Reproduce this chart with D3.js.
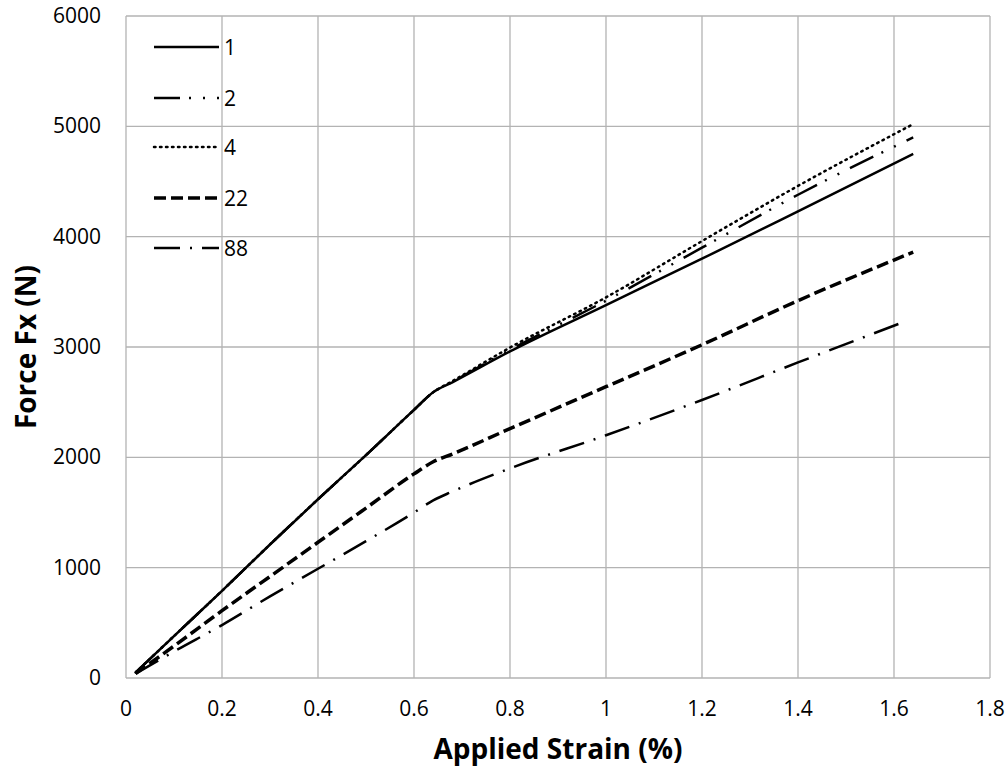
<!DOCTYPE html>
<html><head><meta charset="utf-8">
<script src="https://cdn.jsdelivr.net/npm/d3@7"></script>
<style>body{margin:0;background:#fff}svg{display:block}text{font-family:"Open Sans",sans-serif;fill:#000}</style>
</head><body><svg id="c" width="1008" height="769"></svg>
<script>
const strain = [0.02, 0.1, 0.2, 0.3, 0.4, 0.5, 0.6, 0.64, 0.68, 0.8, 1.0, 1.2, 1.4, 1.64];
const strain88 = [0.02, 0.1, 0.2, 0.3, 0.4, 0.5, 0.6, 0.64, 0.68, 0.8, 1.0, 1.2, 1.4, 1.61];
const s1 = [50, 380, 790, 1210, 1620, 2020, 2430, 2590, 2680, 2960, 3380, 3800, 4230, 4750];
const s2 = [50, 380, 790, 1210, 1620, 2020, 2430, 2590, 2685, 2975, 3420, 3900, 4380, 4900];
const s4 = [50, 380, 790, 1210, 1620, 2020, 2430, 2590, 2690, 2995, 3450, 3960, 4460, 5020];
const s22 = [40, 290, 610, 920, 1230, 1540, 1850, 1960, 2030, 2260, 2640, 3020, 3420, 3860];
const s88 = [40, 240, 480, 740, 990, 1240, 1500, 1610, 1690, 1900, 2200, 2520, 2860, 3210];
const seriesNames = ["1", "2", "4", "22", "88"];
const xTicks = [0, 0.2, 0.4, 0.6, 0.8, 1, 1.2, 1.4, 1.6, 1.8];
const yTicks = [0, 1000, 2000, 3000, 4000, 5000, 6000];

const series = [
  {name: "1", xs: strain, ys: s1, dash: null, w: 2.5},
  {name: "2", xs: strain, ys: s2, dash: "26,9,2,12,2,12", w: 2.5},
  {name: "4", xs: strain, ys: s4, dash: "1.5,4.5", w: 2.5},
  {name: "22", xs: strain, ys: s22, dash: "12,5", w: 3.5},
  {name: "88", xs: strain88, ys: s88, dash: "26,10,2,10", w: 2.5}
];

const svg = d3.select("#c");
const x = d3.scaleLinear().domain([0, 1.8]).range([126, 990]);
const y = d3.scaleLinear().domain([0, 6000]).range([678, 16]);

const g = svg.append("g");
g.selectAll("line.v").data(xTicks).join("line")
  .attr("x1", d => x(d)).attr("x2", d => x(d)).attr("y1", y(0)).attr("y2", y(6000))
  .attr("stroke", "#b3b3b3").attr("stroke-width", 1.3);
g.selectAll("line.h").data(yTicks).join("line")
  .attr("y1", d => y(d)).attr("y2", d => y(d)).attr("x1", x(0)).attr("x2", x(1.8))
  .attr("stroke", "#b3b3b3").attr("stroke-width", 1.3);

g.selectAll("text.xt").data(xTicks).join("text")
  .attr("x", d => x(d)).attr("y", 716).attr("text-anchor", "middle")
  .attr("font-size", 21).text(d => d3.format("")(d));
g.selectAll("text.yt").data(yTicks).join("text")
  .attr("x", 101).attr("y", d => y(d) + 7).attr("text-anchor", "end")
  .attr("font-size", 21).text(d => d);

const line = d3.line().x(d => x(d[0])).y(d => y(d[1])).curve(d3.curveMonotoneX);
series.forEach(s => {
  const pts = s.xs.map((v, i) => [v, s.ys[i]]);
  g.append("path").attr("d", line(pts)).attr("fill", "none")
    .attr("stroke", "#000").attr("stroke-width", s.w)
    .attr("stroke-dasharray", s.dash)
    .attr("stroke-linecap", s.dash === "1.5,4.5" ? "round" : "butt");
});

const legY = [47, 98, 147, 198, 248];
series.forEach((s, i) => {
  g.append("line").attr("x1", 154).attr("x2", 219).attr("y1", legY[i]).attr("y2", legY[i])
    .attr("stroke", "#000").attr("stroke-width", s.w)
    .attr("stroke-dasharray", s.dash)
    .attr("stroke-linecap", s.dash === "1.5,4.5" ? "round" : "butt");
  g.append("text").attr("x", 224).attr("y", legY[i] + 8).attr("font-size", 21).text(seriesNames[i]);
});

svg.append("text").attr("x", 558).attr("y", 759).attr("text-anchor", "middle")
  .attr("font-size", 28).attr("font-weight", "bold").text("Applied Strain (%)");
svg.append("text").attr("transform", "translate(36,347) rotate(-90)").attr("text-anchor", "middle")
  .attr("font-size", 28).attr("font-weight", "bold").text("Force Fx (N)");
</script></body></html>
